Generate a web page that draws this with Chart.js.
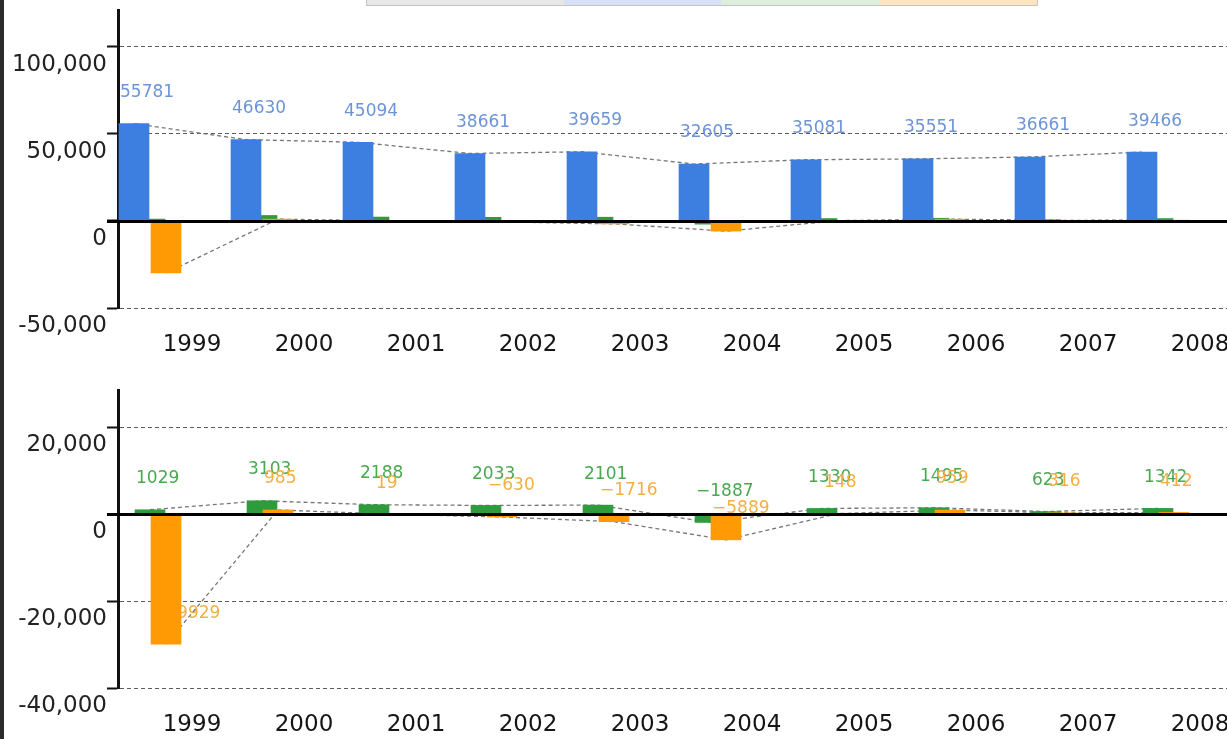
<!DOCTYPE html>
<html>
<head>
<meta charset="utf-8">
<script src="https://cdn.jsdelivr.net/npm/chart.js@4/dist/chart.umd.min.js"></script>
<style>
  html, body { margin:0; padding:0; background:#fff; overflow:hidden; width:1227px; height:739px; }
  #strip { position:absolute; left:0; top:0; width:4px; height:739px; background:#2b2b2b; z-index:5; }
  #legendbox { position:absolute; left:366px; top:-14px; width:672px; height:20px; display:flex; border:1px solid #c4c4c4; box-sizing:border-box; }
  #legendbox div { height:100%; }
  canvas { position:absolute; left:0; }
</style>
</head>
<body>
<div id="strip"></div>
<div id="legendbox">
  <div style="width:197px;background:#e7e7e7"></div>
  <div style="width:157px;background:#d6e1f5"></div>
  <div style="width:159px;background:#dcefdc"></div>
  <div style="width:157px;background:#fde5c2"></div>
</div>
<canvas id="c1" width="1300" height="370" style="top:0px"></canvas>
<canvas id="c2" width="1300" height="359" style="top:380px"></canvas>
<script>
// ---- data ----
const years = ['1999','2000','2001','2002','2003','2004','2005','2006','2007','2008'];
const blueValues   = [55781, 46630, 45094, 38661, 39659, 32605, 35081, 35551, 36661, 39466];
const greenValues  = [1029, 3103, 2188, 2033, 2101, -1887, 1330, 1495, 623, 1342];
const orangeValues = [-29929, 985, 19, -630, -1716, -5889, 148, 959, 316, 412];
const topTicks    = [-50000, 0, 50000, 100000];
const bottomTicks = [-40000, -20000, 0, 20000];

// ---- layout constants ----
const CANVAS_W = 1300;
const AXIS_X = 118;        // y-axis position
const CAT_PX = 112;        // pixels per category
const FIRST_CENTER = 150;  // pixel center of first category
const SHIFT = 16 / CAT_PX; // bar shift within a category
const xMin = -(FIRST_CENTER - AXIS_X) / CAT_PX;
const xMax = xMin + (CANVAS_W - AXIS_X) / CAT_PX;

const COLORS = {
  blue: '#3d7fe0', green: '#2f9b3d', orange: '#ff9a05',
  blueLbl: '#6d94d6', greenLbl: '#4aa851', orangeLbl: '#f2b043',
  line: '#777777'
};

const pts = arr => arr.map((v, i) => ({ x: i, y: v }));
const fmt = v => (v < 0 ? '\u2212' + Math.abs(v) : String(v));

const valueLabels = {
  id: 'valueLabels',
  beforeDatasetsDraw(chart) {
    const ctx = chart.ctx, ys = chart.scales.y;
    ctx.save();
    ctx.font = '17px "DejaVu Sans"';
    ctx.textAlign = 'left';
    ctx.textBaseline = 'middle';
    chart.data.datasets.forEach((ds, di) => {
      if (!ds.labelColor) return;
      const meta = chart.getDatasetMeta(di);
      meta.data.forEach((bar, i) => {
        const v = ds.data[i].y;
        ctx.fillStyle = ds.labelColor;
        ctx.fillText(fmt(v), bar.x - bar.width / 2 + 1, ys.getPixelForValue(v) - 31);
      });
    });
    ctx.restore();
  }
};

const zeroLine = {
  id: 'zeroLine',
  afterDatasetsDraw(chart) {
    const { ctx, chartArea, scales: { y } } = chart;
    const py = Math.round(y.getPixelForValue(0)) + 0.5;
    ctx.save();
    ctx.strokeStyle = '#000';
    ctx.lineWidth = 3;
    ctx.beginPath();
    ctx.moveTo(chartArea.left - 11, py);
    ctx.lineTo(chartArea.right, py);
    ctx.stroke();
    ctx.restore();
  }
};

function makeScales(yMin, yMax, yTicks, xAxisHeight) {
  const hidden = { type: 'linear', axis: 'x', display: false, offset: false, grid: { display: false } };
  return {
    x: {
      type: 'linear', position: 'bottom', min: xMin, max: xMax, offset: false,
      grid: { display: false, drawTicks: false, offset: false },
      border: { display: false },
      afterBuildTicks: s => { s.ticks = years.map((_, i) => ({ value: i })); },
      afterFit: s => { s.height = xAxisHeight; s.paddingLeft = 0; s.paddingRight = 0; },
      ticks: {
        callback: v => years[v] ?? '',
        labelOffset: 42, padding: 23, maxRotation: 0, autoSkip: false,
        font: { family: 'DejaVu Sans', size: 23 }, color: '#151515'
      }
    },
    xBlue:   Object.assign({}, hidden, { min: xMin + SHIFT, max: xMax + SHIFT }),
    xOrange: Object.assign({}, hidden, { min: xMin - SHIFT, max: xMax - SHIFT }),
    y: {
      type: 'linear', min: yMin, max: yMax,
      afterBuildTicks: s => { s.ticks = yTicks.map(v => ({ value: v })); },
      afterFit: s => { s.width = AXIS_X; s.paddingTop = 0; s.paddingBottom = 0; },
      ticks: {
        labelOffset: 18, padding: 0,
        font: { family: 'DejaVu Sans', size: 23 }, color: '#222',
        callback: v => Number(v).toLocaleString('en-US')
      },
      grid: {
        color: c => (c.tick && c.tick.value === 0) ? 'rgba(0,0,0,0)' : '#5c5c5c',
        lineWidth: 1, tickLength: 11, tickColor: '#111', tickWidth: 2, tickBorderDash: []
      },
      border: { display: true, color: '#111', width: 3, dash: [4, 3] }
    }
  };
}

const baseOptions = (scales) => ({
  responsive: false, devicePixelRatio: 1, animation: false,
  layout: { padding: { top: 10, left: 0, right: 0, bottom: 0 } },
  plugins: { legend: { display: false }, tooltip: { enabled: false } },
  scales
});

const lineDs = (arr, axis) => ({
  type: 'line', data: pts(arr), xAxisID: axis, borderColor: COLORS.line, borderWidth: 1.3,
  borderDash: [4, 3], pointRadius: 0, fill: false, tension: 0, order: 5
});
const barDs = (arr, axis, color, order, labelColor) => ({
  type: 'bar', data: pts(arr), xAxisID: axis, backgroundColor: color, barThickness: 30,
  grouped: false, order, labelColor
});

new Chart(document.getElementById('c1'), {
  type: 'bar',
  data: { datasets: [
    lineDs(blueValues, 'xBlue'),
    lineDs(orangeValues, 'xOrange'),
    barDs(greenValues, 'x', COLORS.green, 3, null),
    barDs(orangeValues, 'xOrange', COLORS.orange, 2, null),
    barDs(blueValues, 'xBlue', COLORS.blue, 1, COLORS.blueLbl)
  ]},
  options: baseOptions(makeScales(-50000, 121000, topTicks, 62)),
  plugins: [valueLabels, zeroLine]
});

new Chart(document.getElementById('c2'), {
  type: 'bar',
  data: { datasets: [
    lineDs(greenValues, 'x'),
    lineDs(orangeValues, 'xOrange'),
    barDs(greenValues, 'x', COLORS.green, 3, COLORS.greenLbl),
    barDs(orangeValues, 'xOrange', COLORS.orange, 2, COLORS.orangeLbl)
  ]},
  options: baseOptions(makeScales(-40000, 28600, bottomTicks, 51)),
  plugins: [valueLabels, zeroLine]
});
</script>
</body>
</html>
